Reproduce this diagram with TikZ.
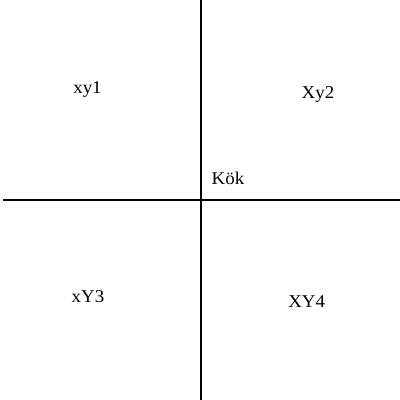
\documentclass[tikz,border=0pt]{standalone}
\usepackage{fontspec}
\setmainfont{Liberation Serif}
\newfontfamily\widefont[FakeStretch=1.05]{Liberation Serif}
\begin{document}
\begin{tikzpicture}[x=1pt,y=-1pt,
  axis/.style={line width=1.6pt,black},
  lbl/.style={font=\widefont\fontsize{18}{21}\selectfont,inner sep=0pt}]
\useasboundingbox (0,0) rectangle (400,400);
\coordinate (top) at (201,0);
\coordinate (bot) at (201,400);
\coordinate (left) at (3,200);
\coordinate (right) at (400,200);
\draw[axis] (top) -- (bot);
\draw[axis] (left) -- (right);
\node[lbl] (q1) at (87.5,89) {xy1};
\node[lbl] (q2) at (318,94) {Xy2};
\node[lbl] (o) at (228,178.5) {Kök};
\node[lbl] (q3) at (88,297) {xY3};
\node[lbl] (q4) at (306.7,302) {XY4};
\end{tikzpicture}
\end{document}
